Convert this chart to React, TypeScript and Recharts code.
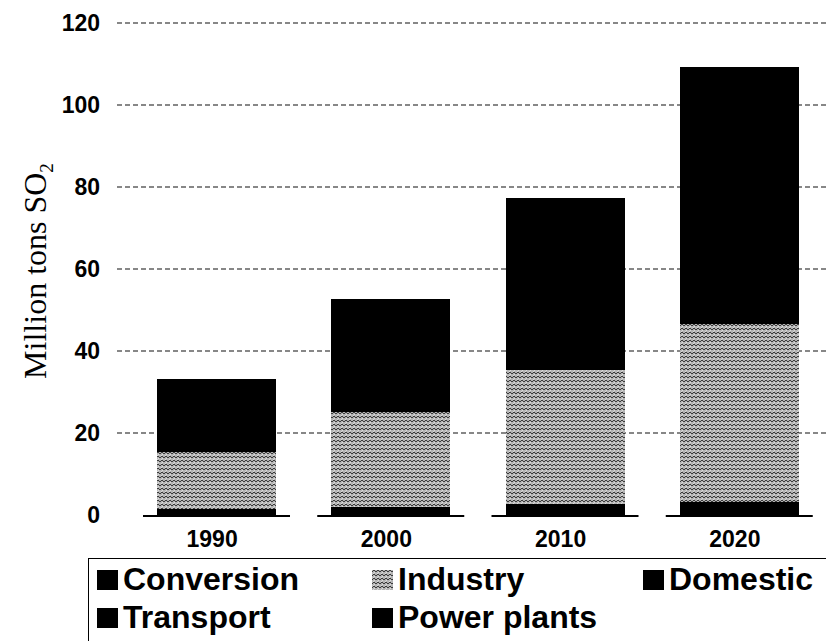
import React from 'react'
import { BarChart, Bar, XAxis, YAxis, CartesianGrid } from 'recharts'

// SO2 emissions by sector, million tons
const years = ['1990', '2000', '2010', '2020']
const conversion = [0.6, 0.8, 1.1, 1.3]
const domestic = [0.5, 0.6, 0.8, 0.9]
const transport = [0.4, 0.6, 0.8, 1.0]
const industry = [13.9, 23.1, 32.7, 43.4]
const powerPlants = [17.8, 27.6, 41.9, 62.7]
const yTicks = [0, 20, 40, 60, 80, 100, 120]
const yMax = 120

const data = years.map((year, i) => ({
  year,
  conversion: conversion[i],
  domestic: domestic[i],
  transport: transport[i],
  industry: industry[i],
  powerPlants: powerPlants[i],
}))

const HATCH = 'url(#industryHatch)'

// stacking order, bottom to top
const series = [
  { key: 'conversion', name: 'Conversion', fill: '#000' },
  { key: 'domestic', name: 'Domestic', fill: '#000' },
  { key: 'transport', name: 'Transport', fill: '#000' },
  { key: 'industry', name: 'Industry', fill: HATCH },
  { key: 'powerPlants', name: 'Power plants', fill: '#000' },
]

// legend reads left-to-right, top-to-bottom
const legendOrder = ['conversion', 'industry', 'domestic', 'transport', 'powerPlants']

const sans = '"Liberation Sans", Arial, Helvetica, sans-serif'
const serif = '"Liberation Serif", "Times New Roman", serif'

// bottom segment also draws the short ground line under each bar
const BaseShape = (props: any) => {
  const { x, y, width, height, fill } = props
  return (
    <g>
      <rect x={x} y={y} width={width} height={height} fill={fill} shapeRendering="crispEdges" />
      <line x1={x - 14} x2={x + width + 14} y1={y + height + 1} y2={y + height + 1} stroke="#000" strokeWidth={2} />
    </g>
  )
}

const FlatShape = (props: any) => {
  const { x, y, width, height, fill } = props
  return <rect x={x} y={y} width={width} height={height} fill={fill} shapeRendering="crispEdges" />
}

const YTick = ({ x, y, payload }: any) => (
  <text x={x} y={y + 8} textAnchor="end" fontFamily={sans} fontWeight="bold" fontSize={23} fill="#000">
    {payload.value}
  </text>
)

const XTick = ({ x, y, payload }: any) => (
  <text x={x - 4} y={y + 32} textAnchor="middle" fontFamily={sans} fontWeight="bold" fontSize={23} fill="#000">
    {payload.value}
  </text>
)

const YLabel = ({ viewBox }: any) => {
  const cy = viewBox.y + viewBox.height / 2 + 2
  const cx = 46
  return (
    <text
      x={cx}
      y={cy}
      transform={`rotate(-90 ${cx} ${cy})`}
      textAnchor="middle"
      fontFamily={serif}
      fontSize={32}
      fill="#000"
    >
      <tspan>Million tons SO</tspan>
      <tspan fontSize={19} dy={7}>2</tspan>
    </text>
  )
}

// dashed rows at every tick except the zero line
const gridRows = ({ yAxis, offset }: any) => {
  const s = yAxis?.scale
  return yTicks
    .filter((t) => t > 0)
    .map((t) => {
      if (typeof s === 'function') return s(t)
      if (s && typeof s.map === 'function') return s.map(t)
      return offset.top + offset.height * (1 - t / yMax)
    })
}

const Swatch = ({ fill }: { fill: string }) => (
  <svg width={21} height={20} style={{ marginRight: 5, verticalAlign: 'baseline' }}>
    <rect width={21} height={20} fill={fill} />
  </svg>
)

export default function App() {
  return (
    <div style={{ position: 'relative', width: 826, height: 641, background: '#fff' }}>
      <style>{'body{margin:0}'}</style>
      <svg width={0} height={0} style={{ position: 'absolute' }}>
        <defs>
          {/* herringbone texture for the industry band */}
          <pattern id="industryHatch" width={8} height={8} patternUnits="userSpaceOnUse">
            <rect width={8} height={8} fill="#b4b4b4" />
            <path d="M0 2 L2 0 L4 2 L6 0 L8 2 M0 6 L2 4 L4 6 L6 4 L8 6" fill="none" stroke="#3c3c3c" strokeWidth={1} />
            <path d="M1 8 L3 6 M5 8 L7 6 M1 4 L3 2 M5 4 L7 2" fill="none" stroke="#e4e4e4" strokeWidth={0.8} />
          </pattern>
        </defs>
      </svg>

      <BarChart width={826} height={641} data={data} margin={{ top: 23, right: 0, bottom: 96, left: 0 }} barSize={119}>
        <CartesianGrid
          vertical={false}
          horizontalCoordinatesGenerator={gridRows}
          stroke="#111"
          strokeWidth={1.1}
          strokeDasharray="5 3"
        />
        <XAxis
          dataKey="year"
          height={30}
          axisLine={false}
          tickLine={false}
          tickSize={0}
          tickMargin={0}
          padding={{ left: 12, right: 0 }}
          tick={<XTick />}
        />
        <YAxis
          width={117}
          domain={[0, yMax]}
          ticks={yTicks}
          axisLine={false}
          tickLine={false}
          tickSize={0}
          tickMargin={17}
          tick={<YTick />}
          label={<YLabel />}
        />
        {series.map((s, i) => (
          <Bar
            key={s.key}
            dataKey={s.key}
            name={s.name}
            stackId="so2"
            fill={s.fill}
            isAnimationActive={false}
            shape={i === 0 ? <BaseShape /> : <FlatShape />}
          />
        ))}
      </BarChart>

      <div
        style={{
          position: 'absolute',
          left: 88,
          top: 558,
          width: 738,
          height: 83,
          borderTop: '1.5px solid #000',
          borderLeft: '1.5px solid #000',
          boxSizing: 'border-box',
          paddingLeft: 8,
          paddingTop: 1,
          display: 'grid',
          gridTemplateColumns: '275px 271px auto',
          gridAutoRows: '38px',
          fontFamily: sans,
          fontWeight: 'bold',
          fontSize: 32,
          lineHeight: '38px',
          color: '#000',
        }}
      >
        {legendOrder.map((key) => {
          const s = series.find((it) => it.key === key)!
          return (
            <div key={key} style={{ whiteSpace: 'nowrap' }}>
              <Swatch fill={s.fill} />
              {s.name}
            </div>
          )
        })}
      </div>
    </div>
  )
}
